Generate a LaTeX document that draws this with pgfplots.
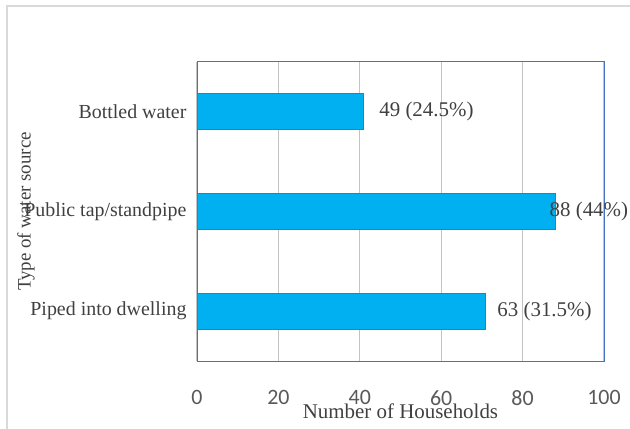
\documentclass[border=0pt]{standalone}
\usepackage{fontspec}
\setmainfont{Liberation Serif}
\newfontfamily\calibri{Carlito}
\usepackage{pgfplots}
\pgfplotsset{compat=1.18}
\usepackage{pgfplotstable}
\definecolor{barblue}{HTML}{00B0F0}
\definecolor{edgeblue}{HTML}{4472C4}
\definecolor{gridgray}{HTML}{D9D9D9}
\definecolor{txt}{HTML}{404040}
\definecolor{tickc}{HTML}{595959}

\pgfplotstableread[col sep=comma]{
y,x,dx,label
0,71,11,63 (31.5\%)
1,88,-6,88 (44\%)
2,41,15,49 (24.5\%)
}\datatable

\begin{document}
\begin{tikzpicture}
\useasboundingbox (0,0) rectangle (630bp,429bp);
\draw[gridgray, line width=2bp] (7bp,0) -- (7bp,423bp) -- (630bp,423bp);
\begin{axis}[
  at={(197bp,68bp)}, anchor=south west,
  scale only axis, width=407bp, height=299bp,
  xmin=0, xmax=100, ymin=-0.5, ymax=2.5,
  xbar, bar width=0.36,
  xtick={0,20,40,60,80,100},
  ytick={0,1,2},
  yticklabels={Piped into dwelling, Public tap/standpipe, Bottled water},
  major tick length=0pt,
  xmajorgrids,
  major grid style={gridgray!90!black, line width=1.3bp},
  axis line style={edgeblue, line width=1bp},
  /pgf/number format/assume math mode=true,
  xticklabel style={font=\calibri\fontsize{22}{26}\selectfont, text=tickc, yshift=-26bp},
  yticklabel style={font=\fontsize{20}{24}\selectfont, text=txt, xshift=-7bp},
  xlabel={Number of Households},
  xlabel style={at={(axis description cs:0.5,0)}, anchor=north, inner sep=0pt, yshift=-43bp, font=\fontsize{21}{25}\selectfont, text=txt},
  ylabel={Type of water source},
  ylabel style={at={(axis description cs:-0.42,0.5)}, anchor=center, font=\fontsize{19}{23}\selectfont, text=txt},
  nodes near coords,
  nodes near coords align=horizontal,
  point meta=explicit symbolic,
  visualization depends on={\thisrow{dx}\as\dx},
  every node near coord/.append style={anchor=west, inner sep=0pt, xshift=\dx bp, font=\fontsize{21}{25}\selectfont, text=txt},
]
\addplot[fill=barblue, draw=edgeblue, line width=1bp] table[x=x, y=y, meta=label] {\datatable};
\end{axis}
\end{tikzpicture}
\end{document}
